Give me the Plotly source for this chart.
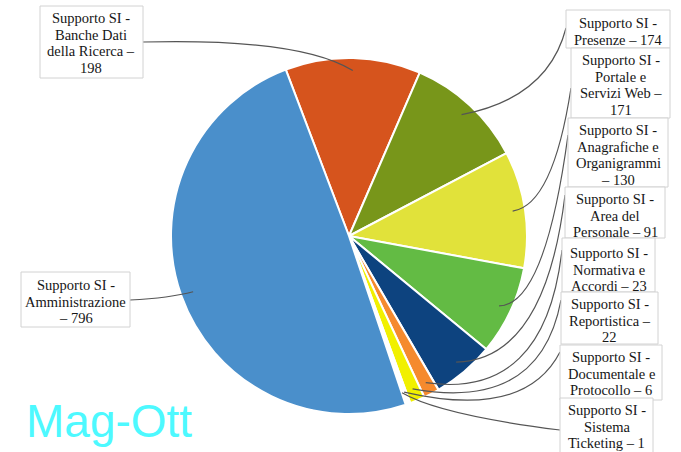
import math
import plotly.graph_objects as go

W, H = 681, 452

categories = [
    "Supporto SI - Banche Dati della Ricerca",
    "Supporto SI - Presenze",
    "Supporto SI - Portale e Servizi Web",
    "Supporto SI - Anagrafiche e Organigrammi",
    "Supporto SI - Area del Personale",
    "Supporto SI - Normativa e Accordi",
    "Supporto SI - Reportistica",
    "Supporto SI - Documentale e Protocollo",
    "Supporto SI - Sistema Ticketing",
    "Supporto SI - Amministrazione",
]
values = [198, 174, 171, 130, 91, 23, 22, 6, 1, 796]
label_lines = [
    ["Supporto SI -", "Banche Dati", "della Ricerca –", "198"],
    ["Supporto SI -", "Presenze – 174"],
    ["Supporto SI -", "Portale e", "Servizi Web –", "171"],
    ["Supporto SI -", "Anagrafiche e", "Organigrammi", "– 130"],
    ["Supporto SI -", "Area del", "Personale – 91"],
    ["Supporto SI -", "Normativa e", "Accordi – 23"],
    ["Supporto SI -", "Reportistica –", "22"],
    ["Supporto SI -", "Documentale e", "Protocollo – 6"],
    ["Supporto SI -", "Sistema", "Ticketing – 1"],
    ["Supporto SI -", "Amministrazione", "– 796"],
]
colors = ["#D6541D", "#78961A", "#E1E23A", "#63BB44", "#0D437F",
          "#F58A2E", "#F1F000", "#FFFFFF", "#FFFFFF", "#4A8FCB"]

# layout (pixels): label boxes [x0, y0, x1, y1], first text line y, line pitch
boxes = [(40, 6, 143, 78), (566, 10, 670, 48), (571, 48, 670, 118),
         (568, 118, 668, 187), (565, 187, 665, 238), (562, 238, 655, 292),
         (561, 292, 658, 344), (560, 345, 662, 400), (560, 398, 653, 460),
         (21, 272, 130, 327)]
first_line = [18, 23, 60, 130, 199, 253, 304, 357, 410, 285]
pitch = 16.6
line_start = [(143, 42), (566, 28), (571, 88), (568, 135), (565, 195),
              (562, 250), (561, 300), (560, 352), (560, 430), (130, 300)]
line_ctrl = [(300, 38), (548, 98), (553, 205), (545, 305), (545, 360),
             (545, 400), (540, 412), (525, 420), (440, 415), (170, 298)]

cx, cy, R = 349, 236, 178
rotation = -20.8

fig = go.Figure(go.Pie(
    labels=categories, values=values, sort=False, direction="clockwise",
    rotation=rotation, textinfo="none", hoverinfo="label+value",
    marker=dict(colors=colors, line=dict(color="white", width=2)),
    domain=dict(x=[(cx - R) / W, (cx + R) / W], y=[(H - cy - R) / H, (H - cy + R) / H]),
    showlegend=False,
))

def px(x, y):
    return x / W, 1 - y / H

total = sum(values)
cum = 0
shapes = []
annotations = []
for i, v in enumerate(values):
    mid = rotation + (cum + v / 2) / total * 360
    cum += v
    a = math.radians(mid)
    ex = cx + 0.93 * R * math.sin(a)
    ey = cy - 0.93 * R * math.cos(a)
    sx, sy = px(*line_start[i])
    qx, qy = px(*line_ctrl[i])
    tx, ty = px(ex, ey)
    shapes.append(dict(type="path", xref="paper", yref="paper",
                       path=f"M {sx},{sy} Q {qx},{qy} {tx},{ty}",
                       line=dict(color="#555555", width=1.2)))
for i, (x0, y0, x1, y1) in enumerate(boxes):
    X0, Y1 = px(x0, y0)
    X1, Y0 = px(x1, y1)
    shapes.append(dict(type="rect", xref="paper", yref="paper",
                       x0=X0, x1=X1, y0=Y0, y1=Y1,
                       line=dict(color="#d2d2d2", width=1), fillcolor="white", layer="above"))
    xc = (x0 + x1) / 2
    for k, t in enumerate(label_lines[i]):
        ax_, ay_ = px(xc, first_line[i] + k * pitch)
        annotations.append(dict(x=ax_, y=ay_, xref="paper", yref="paper",
                                text=t, showarrow=False,
                                xanchor="center", yanchor="middle",
                                font=dict(family="Liberation Serif", size=14.5, color="#161616")))

annotations.append(dict(x=24 / W, y=1 - 421 / H, xref="paper", yref="paper",
                        text="Mag-Ott", showarrow=False, xanchor="left", yanchor="middle",
                        font=dict(family="Liberation Sans", size=46, color="#4DF9FF")))

fig.update_layout(width=W, height=H, margin=dict(l=0, r=0, t=0, b=0),
                  paper_bgcolor="white", plot_bgcolor="white",
                  shapes=shapes, annotations=annotations)
fig.write_html("out.html", config={"displayModeBar": False},
               post_script="document.body.style.margin='0';")
